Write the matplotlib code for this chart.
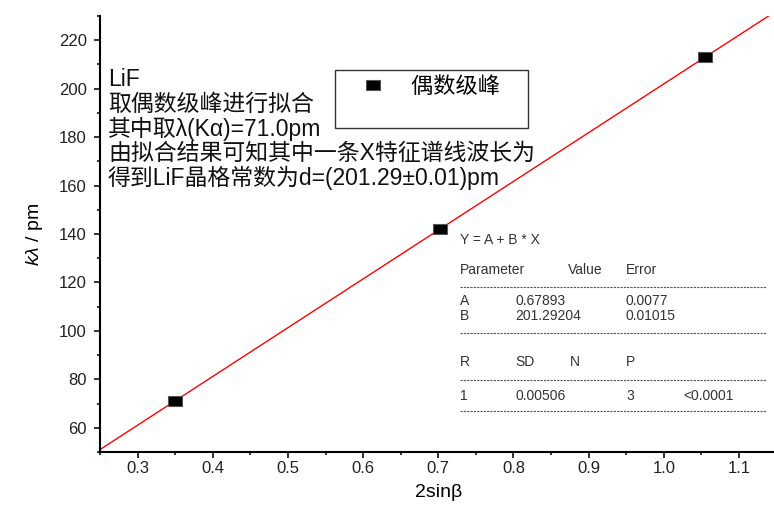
import matplotlib
matplotlib.use("Agg")
import matplotlib.pyplot as plt
from matplotlib.lines import Line2D
import numpy as np

# data: 2sin(beta) vs k*lambda for the even-order peaks
x_vals = [0.3494, 0.7021, 1.0548]
y_vals = [71.0, 142.0, 213.0]
fit_A = 0.67893
fit_B = 201.29204

x_ticks = [0.3, 0.4, 0.5, 0.6, 0.7, 0.8, 0.9, 1.0, 1.1]
y_ticks = [60, 80, 100, 120, 140, 160, 180, 200, 220]

note_lines = ["LiF",
              "取偶数级峰进行拟合",
              "其中取λ(Kα)=71.0pm",
              "由拟合结果可知其中一条X特征谱线波长为",
              "得到LiF晶格常数为d=(201.29±0.01)pm"]

# fit report rows: (text, x pixel)
fit_rows = [
    [("Y = A + B * X", 460)],
    [("Parameter", 460), ("Value", 568), ("Error", 626)],
    None,
    [("A", 460), ("0.67893", 515), ("0.0077", 626)],
    [("B", 460), ("201.29204", 515), ("0.01015", 626)],
    None,
    [("R", 460), ("SD", 515), ("N", 570), ("P", 626)],
    None,
    [("1", 460), ("0.00506", 515), ("3", 626), ("<0.0001", 683)],
    None,
]
row_y = [240, 270, 287, 301, 316, 333, 362, 380, 396, 411]

plt.rcParams['font.family'] = ['Liberation Sans', 'Noto Sans CJK SC']
plt.rcParams['mathtext.fontset'] = 'custom'
plt.rcParams['mathtext.it'] = 'Liberation Sans:italic'
plt.rcParams['mathtext.rm'] = 'Liberation Sans'

W, H = 774, 513
fig = plt.figure(figsize=(7.74, 5.13), dpi=100)
ax = fig.add_axes([100 / W, (H - 452) / H, 676.6 / W, 436 / H])

xs = np.array([0.25, 1.15])
ax.plot(xs, fit_A + fit_B * xs, color='#ff0000', lw=1.0, zorder=2)
sq = [(-1.3, -1), (1.3, -1), (1.3, 1), (-1.3, 1), (-1.3, -1)]
pts, = ax.plot(x_vals, y_vals, ls='none', marker=sq, markersize=10,
               markerfacecolor='black', markeredgecolor='#555555',
               markeredgewidth=0.8, zorder=3, label='偶数级峰')

ax.set_xlim(0.25, 1.15)
ax.set_ylim(50, 230)
ax.set_xticks(x_ticks)
ax.set_xticklabels([f"{v:.1f}" for v in x_ticks])
ax.set_yticks(y_ticks)
ax.set_xticks(np.arange(0.25, 1.16, 0.05), minor=True)
ax.set_yticks(np.arange(50, 231, 10), minor=True)
ax.tick_params(which='major', direction='out', length=4.5, width=1.3,
               labelsize=12, colors='#222222')
ax.tick_params(which='minor', direction='out', length=2.5, width=1.1)
ax.tick_params(axis='x', which='major', pad=2)
ax.tick_params(axis='y', which='major', pad=5)
for s in ['top', 'right']:
    ax.spines[s].set_visible(False)
for s in ['left', 'bottom']:
    ax.spines[s].set_linewidth(1.5)

ax.set_xlabel("2sinβ", fontsize=14, labelpad=6)
ax.set_ylabel(r"$k\lambda$ / pm", fontsize=14, labelpad=10)

blank = Line2D([], [], ls='none')
leg = ax.legend([pts, blank], ['偶数级峰\u3000', ' '], loc='upper left',
                bbox_to_anchor=(235 / 676.6, (452 - 70) / 436),
                fontsize=16, frameon=True, fancybox=False, borderpad=0.3,
                handlelength=2.8, handletextpad=0.3, labelspacing=0.1,
                borderaxespad=0)
leg.get_frame().set_edgecolor('black')
leg.get_frame().set_linewidth(1.0)

note_y = [80, 104, 129, 153, 178]
for line, yy in zip(note_lines, note_y):
    fig.text(108 / W, 1 - yy / H, line, fontsize=16.5, va='center', ha='left',
             color='#111111')

for row, yy in zip(fit_rows, row_y):
    if row is None:
        fig.add_artist(Line2D([460 / W, 766 / W], [1 - yy / H, 1 - yy / H],
                              transform=fig.transFigure, color='#555555',
                              lw=0.8, ls=(0, (2, 1))))
    else:
        for txt, xx in row:
            fig.text(xx / W, 1 - yy / H, txt, fontsize=10, va='center',
                     ha='left', color='#333333')

fig.savefig("out.png", dpi=100)
